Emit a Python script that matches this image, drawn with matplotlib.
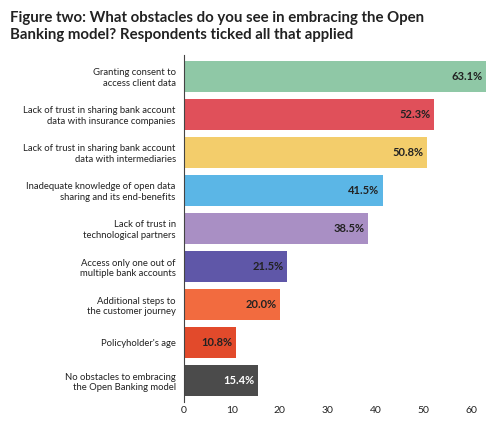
import matplotlib
matplotlib.use('Agg')
import matplotlib.pyplot as plt

plt.rcParams['font.family'] = ['Lato', 'DejaVu Sans']

labels = ['Granting consent to\naccess client data',
          'Lack of trust in sharing bank account\ndata with insurance companies',
          'Lack of trust in sharing bank account\ndata with intermediaries',
          'Inadequate knowledge of open data\nsharing and its end-benefits',
          'Lack of trust in\ntechnological partners',
          'Access only one out of\nmultiple bank accounts',
          'Additional steps to\nthe customer journey',
          "Policyholder's age",
          'No obstacles to embracing\nthe Open Banking model']
values = [63.1, 52.3, 50.8, 41.5, 38.5, 21.5, 20.0, 10.8, 15.4]
colors = ['#8fc8a6', '#e0505a', '#f3cd6b', '#5bb6e6', '#a98fc4',
          '#5f57a8', '#f26b3f', '#e24a2b', '#4b4b4b']
text_colors = ['#222222'] * 8 + ['white']

fig = plt.figure(figsize=(5.0, 4.25), dpi=100)
ax = fig.add_axes([0.368, 0.055, 0.622, 0.815])
y = list(range(len(values)))[::-1]
ax.barh(y, values, color=colors, height=0.82)
for yi, v, tc in zip(y, values, text_colors):
    ax.text(v - 0.7, yi, f'{v:.1f}%', ha='right', va='center', fontsize=8,
            color=tc, fontweight='bold')
ax.set_yticks(y)
ax.set_yticklabels(labels, fontsize=6.8, color='#222222')
ax.tick_params(axis='y', length=0, pad=6)
ax.tick_params(axis='x', labelsize=7.5, length=0, colors='#222222')
ax.set_xlim(0, 65)
ax.set_ylim(-0.55, 8.55)
ax.set_xticks([0, 10, 20, 30, 40, 50, 60])
for s in ['top', 'right', 'bottom']:
    ax.spines[s].set_visible(False)
ax.spines['left'].set_color('#444444')
fig.text(0.02, 0.975, 'Figure two: What obstacles do you see in embracing the Open\nBanking model? Respondents ticked all that applied',
         ha='left', va='top', fontsize=10.8, fontweight='bold', color='#222222',
         linespacing=1.35)
fig.savefig('out.png', dpi=100)
